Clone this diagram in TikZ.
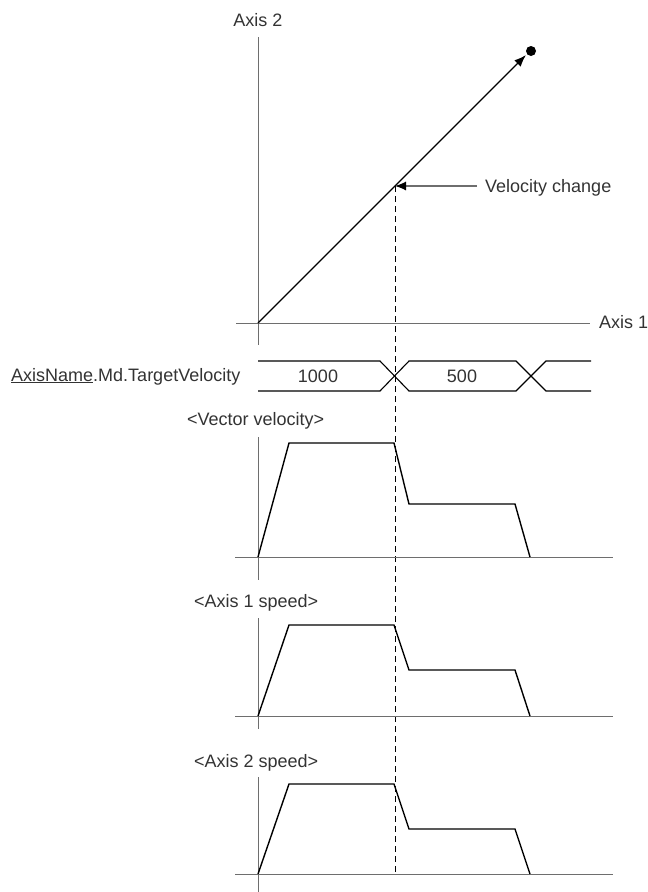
\documentclass[tikz,border=0pt]{standalone}
\usepackage{fontspec}
\setmainfont{Liberation Sans}
\usetikzlibrary{arrows.meta}
\definecolor{axgray}{HTML}{6E6E6E}
\definecolor{txtgray}{HTML}{333333}

\begin{document}
\begin{tikzpicture}[x=1pt,y=-1pt,
 every node/.style={font=\fontsize{18}{21}\selectfont,text=txtgray,inner sep=0pt},
 axisline/.style={draw=axgray,line width=1pt},
 profile/.style={draw=black,line width=1.4pt,line join=miter},
 signal/.style={draw=black,line width=1.1pt}]
\useasboundingbox (0,0) rectangle (648,892);
% path plot
\coordinate (orig) at (258,323);
\coordinate (chg) at (395,186);
\coordinate (tip) at (526,55);
\node[anchor=base] (axtwo) at (258,26) {Axis 2};
\node[anchor=base west] (axone) at (599,328) {Axis 1};
\node[anchor=base west] (vchg) at (485,192) {Velocity change};
\node[circle,fill=black,minimum size=10pt] (goal) at (531,51) {};
\coordinate (tail) at (477,186);
\coordinate (axend) at (590,323);
\draw[axisline] (258,37)--(258,345);
\draw[axisline] (236,323)--(axend);
\draw[line width=1.3pt,-{Latex[length=12pt,width=9pt]}] (orig)--(tip);
\draw[draw=axgray,line width=1.1pt,-{Latex[length=11pt,width=9pt,black]}] (tail)--(chg);
\draw[line width=1pt,dash pattern=on 6pt off 4pt] (chg)--(395,875);
% target velocity
\node[anchor=base west] (tvel) at (11,381) {\underline{AxisName}.Md.TargetVelocity};
\node[anchor=base] (vold) at (318,382) {1000};
\node[anchor=base] (vnew) at (462,382) {500};
\draw[signal] (258,361)--(380,361)--(409,391)--(516,391)--(546,361)--(591,361);
\draw[signal] (258,391)--(380,391)--(409,361)--(516,361)--(546,391)--(591,391);
% speed plots
\node[anchor=base west] (vvec) at (187,425) {<Vector velocity>};
\node[anchor=base west] (vax1) at (194,607) {<Axis 1 speed>};
\node[anchor=base west] (vax2) at (194,767) {<Axis 2 speed>};
\foreach \b/\t/\m/\u/\d in {557/443/504/437/580,716/625/670/618/729,874/784/829/777/892}{
 \draw[axisline] (258,\u)--(258,\d);
 \draw[axisline] (235,\b)--(613,\b);
 \draw[profile] (258,\b)--(289,\t)--(394,\t)--(409,\m)--(515,\m)--(530,\b);
}
\end{tikzpicture}
\end{document}
